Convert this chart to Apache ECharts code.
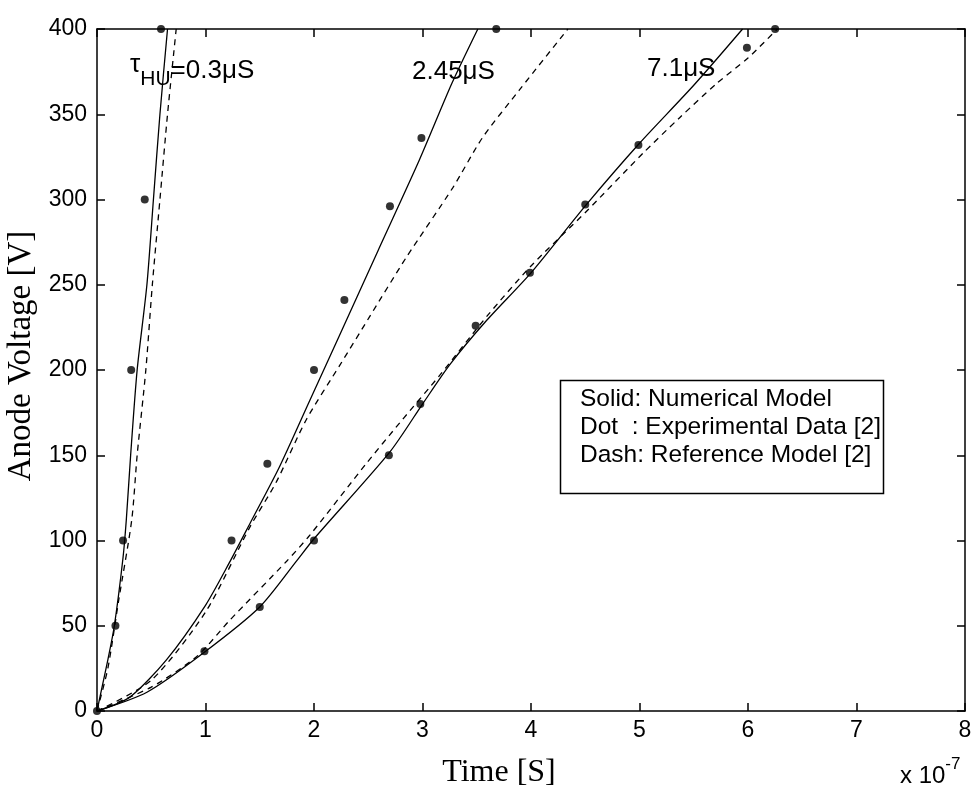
<!DOCTYPE html>
<html>
<head>
<meta charset="utf-8">
<script src="https://cdn.jsdelivr.net/npm/echarts@6/dist/echarts.min.js"></script>
<style>
  html, body { margin: 0; padding: 0; background: #fff; }
  #chart { width: 977px; height: 796px; }
</style>
</head>
<body>
<div id="chart"></div>
<script>
// time in units of 1e-7 s, voltage in V
const solid03 = [[0,0],[0.05,15],[0.1,30],[0.16,50],[0.24,90],[0.27,112],[0.31,150],[0.37,200],[0.46,250],[0.52,300],[0.58,350],[0.65,400]]
const dash03 = [[0,0],[0.1,25],[0.2,65],[0.32,112],[0.37,150],[0.45,200],[0.51,250],[0.58,300],[0.65,350],[0.73,400]]
const dots03 = [[0,0],[0.17,50],[0.24,100],[0.315,200],[0.44,300],[0.59,400]]

const solid245 = [[0,0],[0.3,8],[0.64,30],[1.0,62],[1.22,87],[1.41,110],[1.68,143],[1.96,182],[2.24,221],[2.59,270],[2.97,323],[3.27,368],[3.51,400]]
const dash245 = [[0,0],[0.5,18],[1.0,58],[1.41,108],[1.65,134],[1.93,171],[2.24,203],[2.51,231],[2.85,266],[3.28,307],[3.55,336],[3.89,364],[4.34,400]]
const dots245 = [[1.24,100],[1.57,145],[2.0,200],[2.28,241],[2.7,296],[2.99,336],[3.68,400]]

const solid71 = [[0,0],[0.46,11],[0.98,34],[1.5,61],[1.84,88],[2.0,101],[2.7,152],[3.0,180],[3.25,203],[3.59,229],[4.0,257],[4.51,297],[5.0,333],[5.5,367],[5.95,400]]
const dash71 = [[0,0],[0.5,14],[0.92,32],[1.22,53],[1.75,88],[1.96,103],[2.48,145],[2.79,169],[3.16,197],[3.6,232],[4.0,261],[4.51,293],[5.03,327],[5.37,348],[5.71,368],[6.0,383],[6.27,400]]
const dots71 = [[0.99,35],[1.5,61],[2.0,100],[2.69,150],[2.98,180],[3.49,226],[3.99,257],[4.5,297],[4.99,332],[5.99,389],[6.25,400]]

const legendLines = ['Solid: Numerical Model', 'Dot  : Experimental Data [2]', 'Dash: Reference Model [2]']

const chart = echarts.init(document.getElementById('chart'))

const sans = 'Liberation Sans, Arial, sans-serif'
const serif = 'Liberation Serif, Times New Roman, serif'

function solidLine(data) {
  return { type: 'line', data, smooth: 0.25, symbol: 'none', lineStyle: { color: '#000', width: 1.3 }, z: 3 }
}
function dashLine(data) {
  return { type: 'line', data, smooth: 0.25, symbol: 'none', lineStyle: { color: '#000', width: 1.3, type: [6, 5] }, z: 3 }
}
function dots(data) {
  return { type: 'scatter', data, symbol: 'circle', symbolSize: 8, itemStyle: { color: '#000' }, clip: false, z: 4 }
}

const tickStyle = { show: true, inside: true, length: 8, lineStyle: { color: '#000', width: 1.5 } }
const lineStyle = { show: true, onZero: false, lineStyle: { color: '#000', width: 1.5 } }

chart.setOption({
  backgroundColor: '#fff',
  animation: false,
  grid: { left: 97, right: 12, top: 29, bottom: 85, containLabel: false, outerBoundsMode: 'none' },
  xAxis: [{
    type: 'value', min: 0, max: 8, interval: 1, position: 'bottom',
    axisLine: lineStyle, axisTick: tickStyle, splitLine: { show: false },
    axisLabel: { color: '#000', fontSize: 23, fontFamily: sans, margin: 8 },
    name: 'Time [S]', nameLocation: 'middle', nameGap: 46,
    nameTextStyle: { color: '#000', fontSize: 32, fontFamily: serif, padding: [0, 64, 0, 0] }
  }, {
    type: 'value', min: 0, max: 8, interval: 1, position: 'top',
    axisLine: lineStyle, axisTick: tickStyle, axisLabel: { show: false }, splitLine: { show: false }
  }],
  yAxis: [{
    type: 'value', min: 0, max: 400, interval: 50, position: 'left',
    axisLine: lineStyle, axisTick: tickStyle, splitLine: { show: false },
    axisLabel: { color: '#000', fontSize: 23, fontFamily: sans, margin: 10 },
    name: 'Anode Voltage [V]', nameLocation: 'middle', nameGap: 53,
    nameTextStyle: { color: '#000', fontSize: 33, fontFamily: serif, padding: [0, 0, 0, 28] }
  }, {
    type: 'value', min: 0, max: 400, interval: 50, position: 'right',
    axisLine: lineStyle, axisTick: tickStyle, axisLabel: { show: false }, splitLine: { show: false }
  }],
  series: [
    solidLine(solid03), dashLine(dash03), dots(dots03),
    solidLine(solid245), dashLine(dash245), dots(dots245),
    solidLine(solid71), dashLine(dash71), dots(dots71)
  ],
  graphic: [
    {
      type: 'text', left: 130, top: 52, z: 10,
      style: {
        text: '{t|τ}{s|HU}{u|=0.3μS}', fill: '#000',
        rich: {
          t: { fontSize: 26, fontFamily: sans, padding: [0, 0, 8, 0] },
          s: { fontSize: 21, fontFamily: sans, padding: [20, 0, 0, 0] },
          u: { fontSize: 26, fontFamily: sans, padding: [4, 0, 0, 0] }
        }
      }
    },
    { type: 'text', left: 412, top: 59, z: 10, style: { text: '2.45μS', fontSize: 26, fontFamily: sans, fill: '#000' } },
    { type: 'text', left: 647, top: 56, z: 10, style: { text: '7.1μS', fontSize: 26, fontFamily: sans, fill: '#000' } },
    {
      type: 'rect', z: 10,
      shape: { x: 560.5, y: 380.5, width: 323, height: 113 },
      style: { fill: '#fff', stroke: '#000', lineWidth: 1.5 }
    },
    ...legendLines.map((s, i) => ({
      type: 'text', left: 580, top: 387 + i * 28, z: 11,
      style: { text: s, fontSize: 24.5, fontFamily: sans, fill: '#000', whiteSpace: 'pre' }
    })),
    {
      type: 'text', left: 900, top: 756, z: 10,
      style: {
        text: '{a|x 10}{b|-7}', fill: '#000',
        rich: {
          a: { fontSize: 24, fontFamily: sans, padding: [12, 0, 0, 0] },
          b: { fontSize: 17, fontFamily: sans, padding: [0, 0, 12, 0] }
        }
      }
    }
  ]
})
</script>
</body>
</html>
